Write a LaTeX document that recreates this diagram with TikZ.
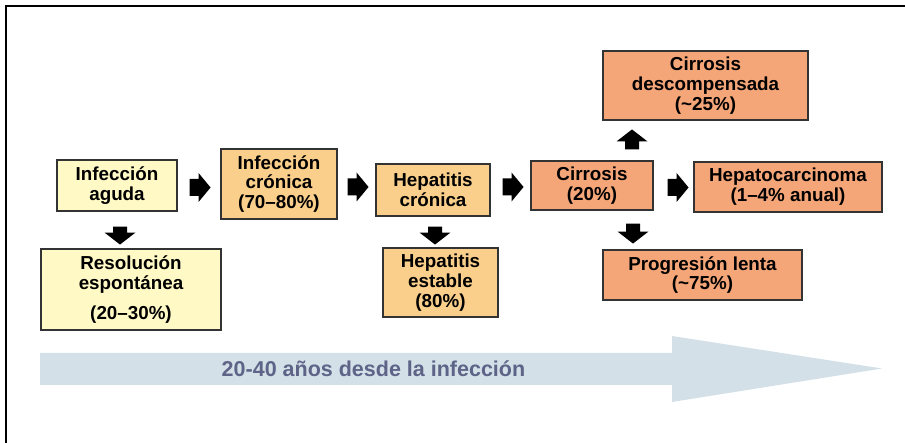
\documentclass[tikz,border=0pt]{standalone}
\usepackage{fontspec}
\setmainfont{Liberation Sans}
\usetikzlibrary{calc}
\definecolor{ylw}{HTML}{FFF9C6}
\definecolor{org}{HTML}{FACF8B}
\definecolor{slm}{HTML}{F4A679}
\definecolor{bdr}{HTML}{333333}
\definecolor{timeline}{HTML}{D4E0E8}
\definecolor{timetext}{HTML}{5D6488}
\tikzset{
  box/.style={draw=bdr, line width=1.1pt, align=center, inner sep=2pt,
    font=\fontsize{18.8}{19.8}\selectfont\bfseries},
  ybox/.style={box, fill=ylw},
  obox/.style={box, fill=org},
  sbox/.style={box, fill=slm},
  blk/.style={fill=black},
}
% right-pointing block arrow starting at #1
\newcommand\blkright[1]{\fill[blk, shift={(#1)}] (0,-8.5) -- (9,-8.5) -- (9,-14.5) -- (21,0) -- (9,14.5) -- (9,8.5) -- (0,8.5) -- cycle;}
% down-pointing block arrow starting at #1, shaft length #2
\newcommand\blkdown[2]{\fill[blk, shift={(#1)}] (-7,0) -- (7,0) -- (7,#2) -- (15.5,#2) -- (0,{#2+12}) -- (-15.5,#2) -- (-7,#2) -- cycle;}
% up-pointing block arrow starting at #1, shaft length #2
\newcommand\blkup[2]{\fill[blk, shift={(#1)}] (-7,0) -- (7,0) -- (7,-#2) -- (15.5,-#2) -- (0,{-#2-12}) -- (-15.5,-#2) -- (-7,-#2) -- cycle;}
\begin{document}
\begin{tikzpicture}[x=1pt,y=-1pt]
\useasboundingbox (0,0) rectangle (905,443);
% frame
\draw[line width=2.5pt] (6,443) -- (6,6) -- (905,6);
% timeline arrow
\fill[timeline] (40,353) -- (672,353) -- (672,336) -- (882,368.5) -- (672,402) -- (672,385) -- (40,385) -- cycle;
\node[font=\fontsize{21.5}{24}\selectfont\bfseries, text=timetext] (tl) at (373.5,369) {20-40 años desde la infección};
% boxes
\node[ybox, minimum width=120pt, minimum height=51pt] (aguda) at (117,185.5) {Infección\\aguda};
\node[ybox, minimum width=180pt, minimum height=81pt] (resol) at (131,289.5) {Resolución\\espontánea\\[10pt](20–30\%)};
\node[obox, minimum width=116pt, minimum height=70pt] (infcron) at (279,184) {Infección\\crónica\\(70–80\%)};
\node[obox, minimum width=114pt, minimum height=52pt] (hepcron) at (433,190) {Hepatitis\\crónica};
\node[obox, minimum width=115pt, minimum height=69pt] (estable) at (440.5,282.5) {Hepatitis\\estable\\(80\%)};
\node[sbox, minimum width=122pt, minimum height=49pt] (cirr) at (592,185.5) {Cirrosis\\(20\%)};
\node[sbox, minimum width=205pt, minimum height=69pt] (desc) at (705.5,85.5) {Cirrosis\\descompensada\\(\textasciitilde25\%)};
\node[sbox, minimum width=188pt, minimum height=50pt] (hcc) at (788,187) {Hepatocarcinoma\\(1–4\% anual)};
\node[sbox, minimum width=199pt, minimum height=50pt] (prog) at (702.5,275) {Progresión lenta\\(\textasciitilde75\%)};
% horizontal block arrows (placed between the named boxes)
\blkright{$(aguda.east)+(12,2)$}
\blkright{$(infcron.east)+(10,3)$}
\blkright{$(hepcron.east)+(12,-3)$}
\blkright{$(cirr.east)+(14,2)$}
% vertical block arrows
\blkdown{$(aguda.south)+(3,15)$}{6}
\blkdown{$(hepcron.south)+(2,10)$}{6}
\blkdown{$(cirr.south)+(41,13)$}{8}
\blkup{$(cirr.north)+(40,-11)$}{8}
\end{tikzpicture}
\end{document}
